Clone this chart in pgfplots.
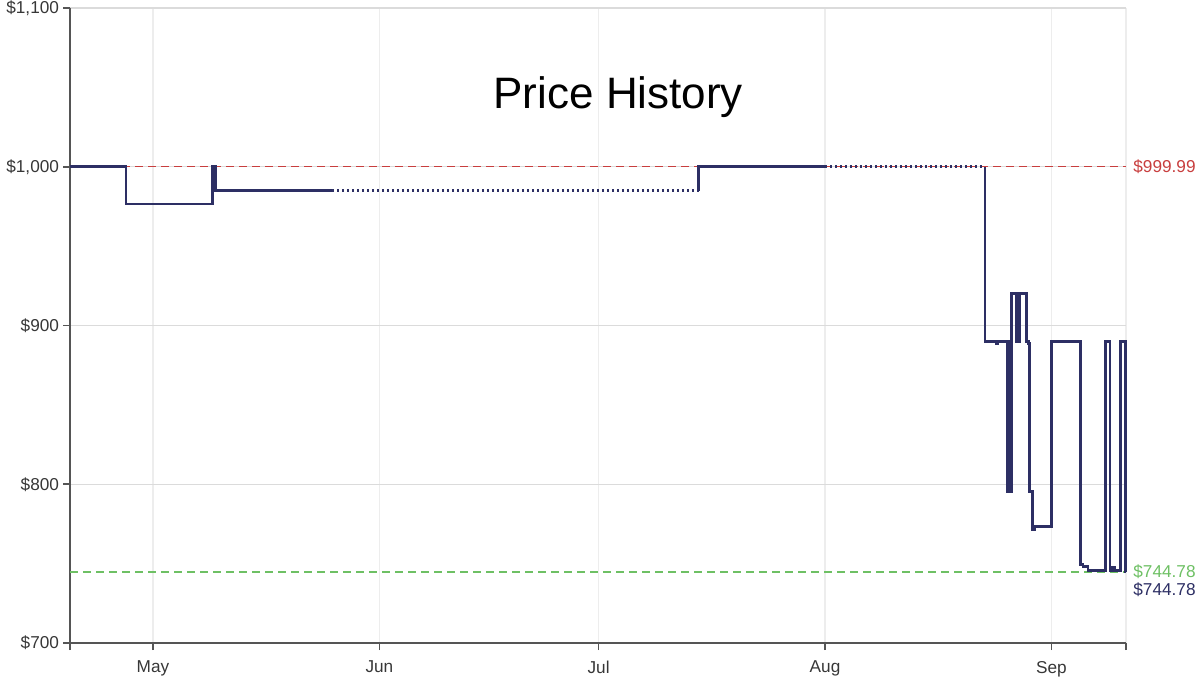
\documentclass[border=0pt]{standalone}
\usepackage{fontspec}
\setmainfont{Liberation Sans}
\usepackage{pgfplots}
\pgfplotsset{compat=1.18}
\definecolor{navy}{RGB}{45,47,100}
\definecolor{refred}{RGB}{200,62,62}
\definecolor{refgreen}{RGB}{110,192,100}
\definecolor{tickgray}{RGB}{55,55,55}
\definecolor{axgray}{RGB}{85,85,85}
\begin{document}
\begin{tikzpicture}
\useasboundingbox (-35bp,-19bp) rectangle (565bp,321.5bp);
\begin{axis}[
  at={(0,0)}, anchor=south west,
  width=528bp, height=317.5bp, scale only axis,
  xmin=-11.36, xmax=133.2, ymin=700, ymax=1100,
  axis x line*=bottom, axis y line*=left,
  axis line style={-, draw=axgray, line width=1bp},
  tick align=outside,
  major tick length=3.5bp,
  tick style={draw=axgray, line width=0.8bp},
  xtick={-11.36,0,31,61,92,123,133.2},
  xticklabels={,May,Jun,Jul,Aug,Sep,},
  ytick={700,800,900,1000,1100},
  yticklabels={{\$700},{\$800},{\$900},{\$1,000},{\$1,100}},
  ymajorgrids, xmajorgrids,
  y grid style={draw=black!14, line width=0.6bp},
  x grid style={draw=black!7, line width=0.6bp},
  ticklabel style={font=\fontsize{8.6bp}{10bp}\selectfont, text=tickgray},
  xticklabel style={yshift=-2bp},
  yticklabel style={xshift=1.5bp},
  /pgf/number format/assume math mode=true,
  clip=false,
]
% reference lines
\addplot[refred, line width=0.6bp, dash pattern=on 4bp off 2.5bp] coordinates {(-11.36,999.99) (133.2,999.99)};
\addplot[refgreen, line width=0.6bp, dash pattern=on 4bp off 2.5bp] coordinates {(-11.36,744.78) (133.2,744.78)};
% price line
\addplot[navy, line width=1.4bp, const plot, line join=miter] coordinates {
 (-11.36,999.99) (-3.7,976.5) (8.2,999.99) (8.6,985.0) (24.5,985.0)};
\addplot[navy, line width=1.4bp, dash pattern=on 1.2bp off 1.3bp, const plot] coordinates {
 (24.5,985.0) (74.7,985.0)};
\addplot[navy, line width=1.4bp, const plot] coordinates {
 (74.7,985.0) (74.7,999.99) (92,999.99)};
\addplot[navy, line width=1.4bp, dash pattern=on 1.2bp off 1.3bp, const plot] coordinates {
 (92,999.99) (113.9,999.99)};
\addplot[navy, line width=1.4bp, const plot, line join=miter] coordinates {
 (113.9,999.99) (113.9,889.99) (115.4,888.8) (115.6,889.99)
 (117.0,795.5) (117.2,889.99) (117.35,795.5) (117.5,919.99)
 (118.15,889.99) (118.3,919.99) (118.45,889.99) (118.6,919.99)
 (119.6,889.99) (119.8,888.5) (120.0,795.5) (120.4,771.5) (120.75,773.5)
 (122.95,889.99) (127.0,749.5) (127.3,748.0) (128.0,745.5)
 (130.4,889.99) (131.0,745.5) (131.3,747.5) (131.6,745.5)
 (132.5,889.99) (133.1,744.78) (133.2,744.78)};
% labels
\node[anchor=west, inner sep=0pt, xshift=3.5bp, text=refred, font=\fontsize{8.6bp}{10bp}\selectfont] at (axis cs:133.2,999.99) {\$999.99};
\node[anchor=west, inner sep=0pt, xshift=3.5bp, text=refgreen, font=\fontsize{8.6bp}{10bp}\selectfont] at (axis cs:133.2,744.78) {\$744.78};
\node[anchor=west, inner sep=0pt, xshift=3.5bp, yshift=-9bp, text=navy, font=\fontsize{8.6bp}{10bp}\selectfont] at (axis cs:133.2,744.78) {\$744.78};
\node[font=\fontsize{22bp}{26bp}\selectfont, text=black] at (axis cs:63.7,1044) {Price History};
\end{axis}
\end{tikzpicture}
\end{document}
